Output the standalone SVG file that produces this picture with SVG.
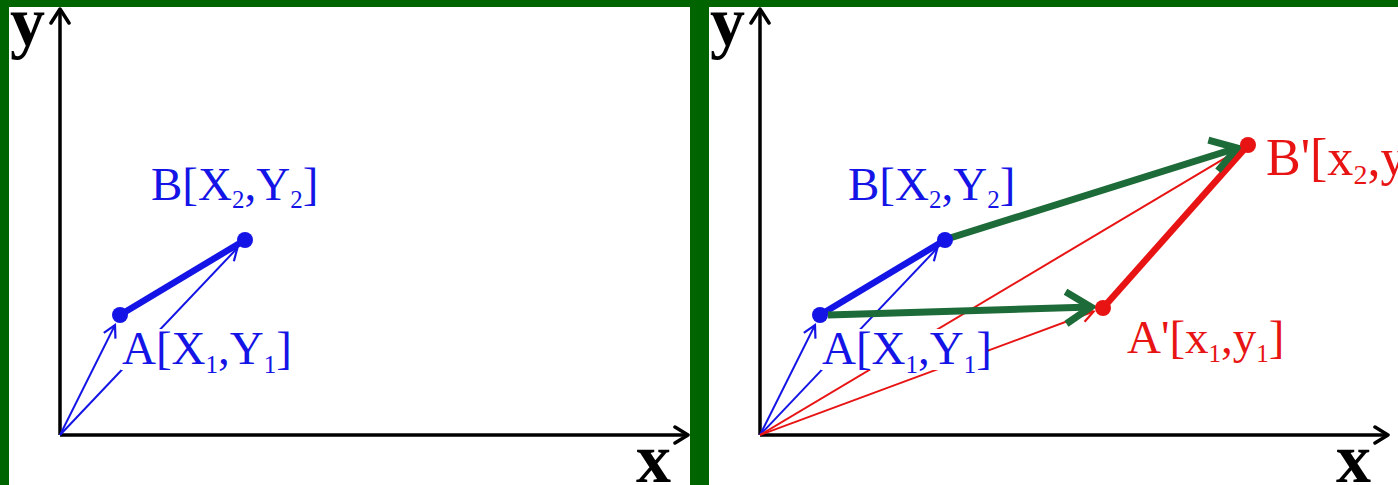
<svg xmlns="http://www.w3.org/2000/svg" width="1398" height="485" viewBox="0 0 1398 485">
<style>
.axis{stroke:#000;stroke-width:3.5;fill:none}
.ah{stroke:#000;stroke-width:3.5;fill:none;stroke-linecap:round;stroke-linejoin:round}
.thinb{stroke:#1414e6;stroke-width:2;fill:none}
.thinr{stroke:#e81414;stroke-width:2;fill:none}
.thickb{stroke:#1414e6;stroke-width:6.5;fill:none}
.thickr{stroke:#e81414;stroke-width:6.5;fill:none}
.thickg{stroke:#1d6b38;stroke-width:7;fill:none}
.lbl{font-family:"Liberation Serif","Times New Roman",serif;font-size:47px}
.sub{font-size:25px}
.ax{font-family:"Liberation Serif","Times New Roman",serif;font-size:70px;font-weight:bold;fill:#000}
.blue{fill:#1414e6}
.red{fill:#e81414}
</style>
<defs>
<marker id="hb" markerUnits="userSpaceOnUse" viewBox="-15 -10 17 20" markerWidth="17" markerHeight="20" refX="0" refY="0" orient="auto">
<path d="M-12,-6.5 L0,0 L-12,6.5" fill="none" stroke="#1414e6" stroke-width="2.2"/>
</marker>
<marker id="hr" markerUnits="userSpaceOnUse" viewBox="-15 -10 17 20" markerWidth="17" markerHeight="20" refX="0" refY="0" orient="auto">
<path d="M-12,-6.5 L0,0 L-12,6.5" fill="none" stroke="#e81414" stroke-width="2.2"/>
</marker>
<marker id="hg" markerUnits="userSpaceOnUse" viewBox="-34 -24 44 48" markerWidth="44" markerHeight="48" refX="0" refY="0" orient="auto">
<path d="M-25,-16 L0,0 L-25,16" fill="none" stroke="#1d6b38" stroke-width="7" stroke-linejoin="miter"/>
</marker>
</defs>
<rect x="0" y="0" width="1398" height="485" fill="#fff"/>
<g id="frame" fill="#006400">
<rect x="0" y="0" width="1398" height="7"/>
<rect x="0" y="0" width="9" height="485"/>
<rect x="690" y="0" width="19" height="485"/>
</g>
<g id="axes">
<path class="axis" d="M60,435 V9 M60,435 H688"/>
<path class="ah" d="M51,23 L60,9 L69,23 M675,427 L688,435 L675,443"/>
<text class="ax" x="10" y="45">y</text>
<text class="ax" x="636" y="482">x</text>
<path class="axis" d="M760,435 V9 M760,435 H1388"/>
<path class="ah" d="M751,23 L760,9 L769,23 M1375,427 L1388,435 L1375,443"/>
<text class="ax" x="710" y="45">y</text>
<text class="ax" x="1336" y="482">x</text>
</g>
<g id="connectors">
<path class="thinb" d="M60,435 L115,325" marker-end="url(#hb)"/>
<path class="thinb" d="M60,435 L237.4,248" marker-end="url(#hb)"/>
<path class="thinb" d="M760,435 L815,325" marker-end="url(#hb)"/>
<path class="thinb" d="M760,435 L937.4,248" marker-end="url(#hb)"/>
<path class="thinr" d="M760,435 L1093.6,311.5" marker-end="url(#hr)"/>
<path class="thinr" d="M760,435 L1238.4,150.1" marker-end="url(#hr)"/>
</g>
<g id="label-mask" fill="#fff">
<rect x="121" y="329" width="165" height="41"/>
<rect x="821" y="329" width="165" height="41"/>
</g>
<g id="vectors">
<path class="thickb" d="M120,315 L245,240"/>
<path class="thickb" d="M820,315 L945,240"/>
<path class="thickr" d="M1103,308 L1248,145"/>
<path class="thickg" d="M828,315 L1091,307" marker-end="url(#hg)"/>
<path class="thickg" d="M950,238 L1237,148" marker-end="url(#hg)"/>
</g>
<g id="node-A-left">
<circle cx="120" cy="315" r="8" fill="#1414e6"/>
<text class="lbl blue" x="122" y="364">A[X<tspan class="sub" dy="9">1</tspan><tspan dy="-9">,Y</tspan><tspan class="sub" dy="9">1</tspan><tspan dy="-9">]</tspan></text>
</g>
<g id="node-B-left">
<circle cx="245" cy="240" r="8" fill="#1414e6"/>
<text class="lbl blue" x="151" y="200">B[X<tspan class="sub" dy="8">2</tspan><tspan dy="-8">,Y</tspan><tspan class="sub" dy="8">2</tspan><tspan dy="-8">]</tspan></text>
</g>
<g id="node-A-right">
<circle cx="820" cy="315" r="8" fill="#1414e6"/>
<text class="lbl blue" x="822" y="364">A[X<tspan class="sub" dy="9">1</tspan><tspan dy="-9">,Y</tspan><tspan class="sub" dy="9">1</tspan><tspan dy="-9">]</tspan></text>
</g>
<g id="node-B-right">
<circle cx="945" cy="240" r="8" fill="#1414e6"/>
<text class="lbl blue" x="848" y="200">B[X<tspan class="sub" dy="8">2</tspan><tspan dy="-8">,Y</tspan><tspan class="sub" dy="8">2</tspan><tspan dy="-8">]</tspan></text>
</g>
<g id="node-A-prime">
<circle cx="1103" cy="308" r="8" fill="#e81414"/>
<text class="lbl red" x="1127" y="353">A'[x<tspan class="sub" dy="9">1</tspan><tspan dy="-9">,y</tspan><tspan class="sub" dy="9">1</tspan><tspan dy="-9">]</tspan></text>
</g>
<g id="node-B-prime">
<circle cx="1248" cy="145" r="8" fill="#e81414"/>
<text class="lbl red" x="1266" y="175" style="font-size:52px">B'[x<tspan class="sub" dy="9" style="font-size:28px">2</tspan><tspan dy="-9">,y</tspan><tspan class="sub" dy="9" style="font-size:28px">2</tspan><tspan dy="-9">]</tspan></text>
</g>
</svg>
